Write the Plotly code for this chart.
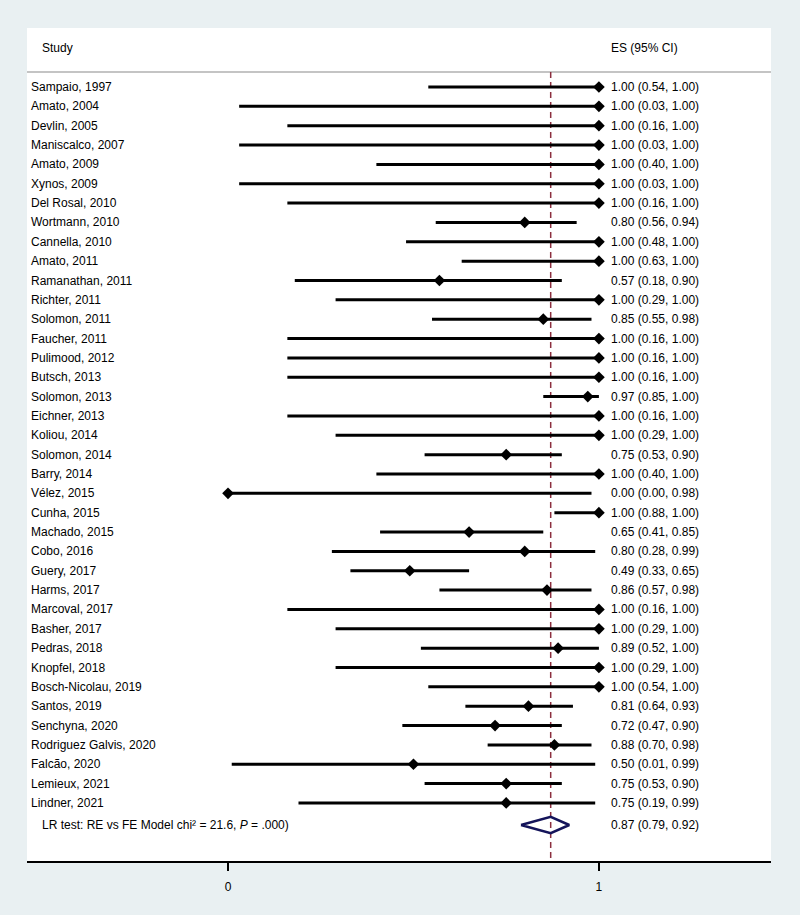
import plotly.graph_objects as go

studies = ["Sampaio, 1997", "Amato, 2004", "Devlin, 2005", "Maniscalco, 2007", "Amato, 2009",
           "Xynos, 2009", "Del Rosal, 2010", "Wortmann, 2010", "Cannella, 2010", "Amato, 2011",
           "Ramanathan, 2011", "Richter, 2011", "Solomon, 2011", "Faucher, 2011", "Pulimood, 2012",
           "Butsch, 2013", "Solomon, 2013", "Eichner, 2013", "Koliou, 2014", "Solomon, 2014",
           "Barry, 2014", "Vélez, 2015", "Cunha, 2015", "Machado, 2015", "Cobo, 2016",
           "Guery, 2017", "Harms, 2017", "Marcoval, 2017", "Basher, 2017", "Pedras, 2018",
           "Knopfel, 2018", "Bosch-Nicolau, 2019", "Santos, 2019", "Senchyna, 2020",
           "Rodriguez Galvis, 2020", "Falcão, 2020", "Lemieux, 2021", "Lindner, 2021"]
es = [1.00, 1.00, 1.00, 1.00, 1.00, 1.00, 1.00, 0.80, 1.00, 1.00,
      0.57, 1.00, 0.85, 1.00, 1.00, 1.00, 0.97, 1.00, 1.00, 0.75,
      1.00, 0.00, 1.00, 0.65, 0.80, 0.49, 0.86, 1.00, 1.00, 0.89,
      1.00, 1.00, 0.81, 0.72, 0.88, 0.50, 0.75, 0.75]
lo = [0.54, 0.03, 0.16, 0.03, 0.40, 0.03, 0.16, 0.56, 0.48, 0.63,
      0.18, 0.29, 0.55, 0.16, 0.16, 0.16, 0.85, 0.16, 0.29, 0.53,
      0.40, 0.00, 0.88, 0.41, 0.28, 0.33, 0.57, 0.16, 0.29, 0.52,
      0.29, 0.54, 0.64, 0.47, 0.70, 0.01, 0.53, 0.19]
hi = [1.00, 1.00, 1.00, 1.00, 1.00, 1.00, 1.00, 0.94, 1.00, 1.00,
      0.90, 1.00, 0.98, 1.00, 1.00, 1.00, 1.00, 1.00, 1.00, 0.90,
      1.00, 0.98, 1.00, 0.85, 0.99, 0.65, 0.98, 1.00, 1.00, 1.00,
      1.00, 1.00, 0.93, 0.90, 0.98, 0.99, 0.90, 0.99]
overall_es, overall_lo, overall_hi = 0.87, 0.79, 0.92
overall_label = "LR test: RE vs FE Model chi² = 21.6, <i>P</i> = .000)"
x_ticks = [0, 1]

FONT = "Liberation Sans, Arial, sans-serif"
rows = list(range(1, len(studies) + 1))
sum_row = len(studies) + 1.14
header_row = -1.02
sep_row = 0.225
y_bottom = 41.0
y_top = -2.05

fig = go.Figure()

# reference dashed line at overall estimate
fig.add_trace(go.Scatter(x=[overall_es, overall_es], y=[sep_row, y_bottom], mode="lines",
                         line=dict(color="#8c2f3f", width=1.5, dash="6px,4px"),
                         hoverinfo="skip", showlegend=False))

# CI lines
cx, cy = [], []
for r, a, b in zip(rows, lo, hi):
    cx += [a, b, None]
    cy += [r, r, None]
fig.add_trace(go.Scatter(x=cx, y=cy, mode="lines", line=dict(color="black", width=3),
                         hoverinfo="skip", showlegend=False))

# point estimates
fig.add_trace(go.Scatter(x=es, y=rows, mode="markers",
                         marker=dict(symbol="diamond", size=9, color="black"),
                         showlegend=False))

# overall diamond
dh = 0.42
fig.add_trace(go.Scatter(x=[overall_lo, overall_es, overall_hi, overall_es, overall_lo],
                         y=[sum_row, sum_row - dh, sum_row, sum_row + dh, sum_row],
                         mode="lines", line=dict(color="#14145a", width=2.5),
                         hoverinfo="skip", showlegend=False))

annotations = []
label_x_paper = 2 / 744
txt_font = dict(family=FONT, size=12, color="black")
for r, s in zip(rows, studies):
    annotations.append(dict(x=label_x_paper, xref="paper", y=r, yref="y", text=s,
                            showarrow=False, xanchor="left", yanchor="middle", font=txt_font))
es_x = 1.027
for r, e, a, b in zip(rows, es, lo, hi):
    annotations.append(dict(x=es_x, xref="x", y=r, yref="y",
                            text=f"{e:.2f} ({a:.2f}, {b:.2f})",
                            showarrow=False, xanchor="left", yanchor="middle", font=txt_font))
annotations.append(dict(x=es_x, xref="x", y=sum_row, yref="y",
                        text=f"{overall_es:.2f} ({overall_lo:.2f}, {overall_hi:.2f})",
                        showarrow=False, xanchor="left", yanchor="middle", font=txt_font))
annotations.append(dict(x=13 / 744, xref="paper", y=sum_row, yref="y", text=overall_label,
                        showarrow=False, xanchor="left", yanchor="middle", font=txt_font))
annotations.append(dict(x=13 / 744, xref="paper", y=header_row, yref="y", text="Study",
                        showarrow=False, xanchor="left", yanchor="middle", font=txt_font))
annotations.append(dict(x=es_x, xref="x", y=header_row, yref="y", text="ES (95% CI)",
                        showarrow=False, xanchor="left", yanchor="middle", font=txt_font))

fig.update_layout(
    width=800, height=915,
    margin=dict(l=27, r=29, t=28, b=54),
    paper_bgcolor="#e9f0f2",
    plot_bgcolor="white",
    font=dict(family=FONT, size=12, color="black"),
    showlegend=False,
    annotations=annotations,
    shapes=[dict(type="line", xref="paper", x0=0, x1=1, yref="y", y0=sep_row, y1=sep_row,
                 line=dict(color="#c4c4c4", width=2), layer="below")],
    xaxis=dict(range=[-0.542, 1.464], tickvals=x_ticks, ticktext=[str(t) for t in x_ticks],
               showgrid=False, zeroline=False, showline=True, linecolor="black", linewidth=2,
               ticks="outside", ticklen=8, tickwidth=2, tickcolor="black",
               ticklabelstandoff=6,
               tickfont=dict(family=FONT, size=12, color="black")),
    yaxis=dict(range=[y_bottom, y_top], showgrid=False, zeroline=False, showticklabels=False,
               showline=False, ticks=""),
)

fig.write_html("out.html", config={"displayModeBar": False},
               post_script="document.body.style.margin='0';document.body.style.padding='0';")
